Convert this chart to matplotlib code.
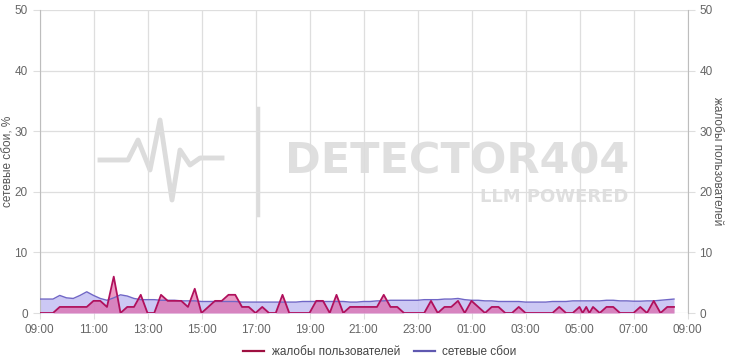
import matplotlib
matplotlib.use("Agg")
import matplotlib.pyplot as plt
from matplotlib.lines import Line2D
import numpy as np
import pandas as pd

# ---- data -------------------------------------------------------------
start = "2024-01-01 09:00"
grid_times = pd.date_range(start, periods=95, freq="15min")

complaints = [0, 0, 0, 1, 1, 1, 1, 1, 2, 2, 1, 6, 0, 1, 1, 3, 0, 0, 3, 2,
              2, 2, 1, 4, 0, 1, 2, 2, 3, 3, 1, 1, 0, 1, 0, 0, 3, 0, 0, 0,
              0, 2, 2, 0, 3, 0, 1, 1, 1, 1, 1, 3, 1, 1, 0, 0, 0, 0, 2, 0,
              1, 1, 2, 0, 2, 1, 0, 1, 1, 0, 0, 1, 0, 0, 0, 0, 0, 1, 0, 0,
              1, 1, 1, 0, 1, 1, 0, 0, 0, 1, 0, 2, 0, 1, 1]
# extra readings between grid points (short dips to zero)
complaint_extra_times = ["2024-01-02 05:07", "2024-01-02 05:22"]
complaint_extra_values = [0, 0]

network = [2.3, 2.3, 2.3, 2.9, 2.5, 2.4, 2.9, 3.5, 2.9, 2.4, 2.1, 2.5, 3.0, 2.8,
           2.4, 2.2, 2.2, 2.2, 2.1, 2.1, 2.1, 2.0, 2.0, 2.0, 1.9, 1.9, 1.9, 1.9,
           1.9, 1.9, 1.8, 1.8, 1.8, 1.8, 1.8, 1.8, 1.8, 1.8, 1.8, 1.9, 1.9, 1.9,
           1.9, 1.9, 1.9, 1.9, 1.8, 1.8, 1.9, 1.9, 2.0, 2.0, 2.1, 2.1, 2.1, 2.1,
           2.1, 2.2, 2.2, 2.2, 2.3, 2.3, 2.4, 2.2, 2.1, 2.1, 2.0, 2.0, 1.9, 1.9,
           1.9, 1.9, 1.8, 1.8, 1.8, 1.8, 1.9, 1.9, 1.9, 2.0, 2.0, 2.0, 2.0, 2.0,
           2.1, 2.1, 2.0, 2.0, 1.95, 1.95, 2.0, 2.0, 2.1, 2.2, 2.3]

tick_labels = ["09:00", "11:00", "13:00", "15:00", "17:00", "19:00", "21:00",
               "23:00", "01:00", "03:00", "05:00", "07:00", "09:00"]
y_ticks = [0, 10, 20, 30, 40, 50]

# ---- prepare ----------------------------------------------------------
t0 = pd.Timestamp(start)
def hours(ts):
    return (pd.to_datetime(ts) - t0) / pd.Timedelta(hours=1)

c_df = pd.DataFrame({"t": list(grid_times) + list(pd.to_datetime(complaint_extra_times)),
                     "v": complaints + complaint_extra_values}).sort_values("t")
cx = np.asarray(hours(c_df["t"]))
cy = c_df["v"].to_numpy()
nx = np.asarray(hours(grid_times))
ny = np.array(network)

plt.rcParams["font.family"] = ["Liberation Sans", "DejaVu Sans"]
fig = plt.figure(figsize=(7.30, 3.61), dpi=100)
ax = fig.add_axes([39.5 / 730, 1 - 313 / 361, (687.5 - 39.5) / 730, (313 - 10) / 361])
ax2 = ax.twinx()

blue_line = "#7066c6"
blue_fill = "#c4bff3"
pink_line = "#b0105c"
pink_fill = "#e0579d"

# watermark
wm = "#dcdcdc"
fig.text(285 / 730, 1 - 162 / 361, "DETECTOR404", fontsize=31, fontweight="bold",
         color=wm, va="center", ha="left", family="DejaVu Sans", alpha=0.9, zorder=0)
fig.text(628 / 730, 1 - 197 / 361, "LLM POWERED", fontsize=13, fontweight="bold",
         color=wm, va="center", ha="right", family="DejaVu Sans", alpha=0.9, zorder=0)
fig.add_artist(Line2D([258 / 730, 258 / 730], [1 - 108 / 361, 1 - 215 / 361],
                      color=wm, lw=2.5, transform=fig.transFigure, zorder=0))
px = np.array([100, 128, 138, 150, 160, 172, 180, 190, 200, 222])
py = np.array([160, 160, 140, 170, 120, 200, 150, 165, 158, 158])
fig.add_artist(Line2D(px / 730, 1 - py / 361, color=wm, lw=3.5,
                      transform=fig.transFigure, zorder=0))

ax.set_facecolor("none")
ax.fill_between(nx, 0, ny, color=blue_fill, alpha=0.85, lw=0, zorder=2)
ax2.fill_between(cx, 0, cy, color=pink_fill, alpha=0.6, lw=0, zorder=2)
ax2.plot(nx, ny, color=blue_line, lw=1.0, zorder=3)
ax2.plot(cx, cy, color=pink_line, lw=1.3, zorder=4)

for a in (ax, ax2):
    a.set_xlim(0, 24)
    a.set_ylim(0, 50)
    a.set_yticks(y_ticks)
    for s in a.spines.values():
        s.set_visible(False)
ax.set_xticks(np.arange(0, 25, 2))
ax.set_xticklabels(tick_labels)
ax.grid(True, color="#dedede", lw=0.9)
ax.set_axisbelow(True)
ax.spines["left"].set_visible(True)
ax.spines["left"].set_color("#bdbdbd")
ax2.spines["right"].set_visible(True)
ax2.spines["right"].set_color("#bdbdbd")
ax.tick_params(axis="both", colors="#666666", labelsize=8.5, length=5, width=0.8)
ax.tick_params(axis="x", length=4, pad=4, colors="#dedede", labelcolor="#666666")
ax.tick_params(axis="y", colors="#dedede", labelcolor="#666666")
ax2.tick_params(axis="y", colors="#dedede", labelcolor="#666666", labelsize=8.5,
                length=5, width=0.8)
ax.set_ylabel("сетевые сбои, %", color="#555555", fontsize=8.5, va="center")
ax.yaxis.set_label_coords((9 - 39.5) / 648, 0.5)
ax2.set_ylabel("жалобы пользователей", color="#555555", fontsize=8.5,
               rotation=270, va="center")
ax2.yaxis.set_label_coords((717 - 39.5) / 648, 0.5)

handles = [Line2D([], [], color="#9e1040", lw=1.6),
           Line2D([], [], color="#5f58b0", lw=1.6)]
fig.legend(handles, ["жалобы пользователей", "сетевые сбои"], loc="center",
           bbox_to_anchor=(380 / 730, 1 - 352 / 361), ncol=2, frameon=False,
           fontsize=8.5, handlelength=1.8, columnspacing=1.2, handletextpad=0.6,
           labelcolor="#444444")

fig.savefig("out.png", dpi=100)
